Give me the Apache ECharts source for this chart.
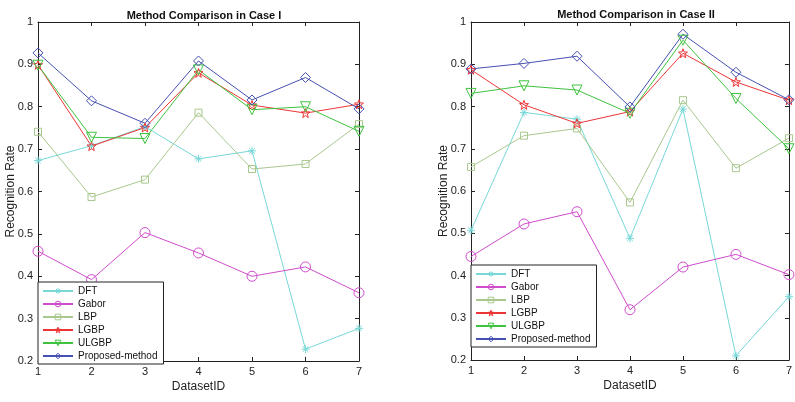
<!DOCTYPE html>
<html lang="en">
	<head>
		<meta charset="UTF-8">
		<title>Method Comparison</title>
		<script src="https://cdn.jsdelivr.net/npm/echarts@6/dist/echarts.min.js" type="text/javascript" charset="utf-8"></script>
	</head>
	<body style="margin:0;background:#fff;">
		<div id="chart" style="width:795px;height:402px;"></div>
	</body>
	<script type="text/javascript">
		// data
		var datasetIds = [1, 2, 3, 4, 5, 6, 7]
		var methodNames = ['DFT', 'Gabor', 'LBP', 'LGBP', 'ULGBP', 'Proposed-method']
		var yTicks = [0.2, 0.3, 0.4, 0.5, 0.6, 0.7, 0.8, 0.9, 1]

		// Case I
		var case1DFT = [0.673, 0.708, 0.753, 0.677, 0.696, 0.228, 0.277]
		var case1Gabor = [0.459, 0.392, 0.503, 0.455, 0.400, 0.422, 0.361]
		var case1LBP = [0.741, 0.587, 0.628, 0.786, 0.653, 0.665, 0.759]
		var case1LGBP = [0.899, 0.707, 0.751, 0.880, 0.804, 0.785, 0.806]
		var case1ULGBP = [0.898, 0.728, 0.725, 0.887, 0.793, 0.800, 0.742]
		var case1Proposed = [0.927, 0.814, 0.761, 0.908, 0.816, 0.869, 0.795]

		// Case II
		var case2DFT = [0.507, 0.786, 0.770, 0.488, 0.794, 0.210, 0.350]
		var case2Gabor = [0.445, 0.522, 0.551, 0.319, 0.420, 0.450, 0.402]
		var case2LBP = [0.657, 0.731, 0.748, 0.573, 0.815, 0.654, 0.725]
		var case2LGBP = [0.887, 0.804, 0.760, 0.788, 0.926, 0.858, 0.815]
		var case2ULGBP = [0.831, 0.849, 0.839, 0.784, 0.957, 0.819, 0.700]
		var case2Proposed = [0.889, 0.902, 0.919, 0.799, 0.971, 0.881, 0.816]

		var colors = ['#78d8d8', '#cf4ccb', '#a9c88e', '#ee3535', '#3fc23f', '#4650b0']
		var asterisk = 'path://M5,0L5,10M0,5L10,5M1.5,1.5L8.5,8.5M1.5,8.5L8.5,1.5'
		var star = 'path://M5,0L6.2,3.4L10,3.6L7,5.9L8.1,9.6L5,7.4L1.9,9.6L3,5.9L0,3.6L3.8,3.4Z'
		var tri = 'path://M0,0L10,0L5,8.7Z'
		var symbols = [asterisk, 'circle', 'rect', star, tri, 'diamond']
		var symbolSizes = [8, 10, 7, 9, 10, 10]

		var font = '"Liberation Sans", Arial, sans-serif'

		function pairs(vals) {
			var out = []
			for(var i = 0; i < datasetIds.length; i++) {
				out.push([datasetIds[i], vals[i]])
			}
			return out
		}

		function makeSeries(list, axisIndex) {
			var arr = []
			for(var i = 0; i < list.length; i++) {
				arr.push({
					name: methodNames[i],
					type: 'line',
					xAxisIndex: axisIndex,
					yAxisIndex: axisIndex,
					data: pairs(list[i]),
					symbol: symbols[i],
					symbolSize: symbolSizes[i],
					showAllSymbol: true,
					animation: false,
					lineStyle: { color: colors[i], width: 1 },
					itemStyle: { color: 'rgba(255,255,255,0)', borderColor: colors[i], borderWidth: 1 },
					emphasis: { disabled: true }
				})
			}
			return arr
		}

		function bottomX(grid) {
			return {
				type: 'value', gridIndex: grid, min: 1, max: 7, interval: 1,
				position: 'bottom',
				axisLine: { lineStyle: { color: '#222', width: 1 } },
				axisTick: { inside: true, length: 4, lineStyle: { color: '#222' } },
				axisLabel: { color: '#222', fontSize: 11, fontFamily: font, margin: 5 },
				splitLine: { show: false },
				name: 'DatasetID', nameLocation: 'middle', nameGap: 20, nameMoveOverlap: false,
				nameTextStyle: { color: '#222', fontSize: 12, fontFamily: font }
			}
		}

		function topX(grid) {
			return {
				type: 'value', gridIndex: grid, min: 1, max: 7, interval: 1,
				position: 'top',
				axisLine: { lineStyle: { color: '#222', width: 1 } },
				axisTick: { inside: true, length: 4, lineStyle: { color: '#222' } },
				axisLabel: { show: false },
				splitLine: { show: false }
			}
		}

		function leftY(grid) {
			return {
				type: 'value', gridIndex: grid, min: yTicks[0], max: yTicks[yTicks.length - 1], interval: 0.1,
				position: 'left',
				axisLine: { show: true, lineStyle: { color: '#222', width: 1 } },
				axisTick: { show: true, inside: true, length: 4, lineStyle: { color: '#222' } },
				axisLabel: {
					color: '#222', fontSize: 11, fontFamily: font, margin: 5,
					formatter: function(v) { return Math.round(v * 10) / 10 + '' }
				},
				splitLine: { show: false },
				name: 'Recognition Rate', nameLocation: 'middle', nameGap: 21, nameMoveOverlap: false,
				nameTextStyle: { color: '#222', fontSize: 12, fontFamily: font }
			}
		}

		function rightY(grid) {
			return {
				type: 'value', gridIndex: grid, min: yTicks[0], max: yTicks[yTicks.length - 1], interval: 0.1,
				position: 'right',
				axisLine: { show: true, lineStyle: { color: '#222', width: 1 } },
				axisTick: { show: true, inside: true, length: 4, lineStyle: { color: '#222' } },
				axisLabel: { show: false },
				splitLine: { show: false }
			}
		}

		function legendAt(left, top) {
			return {
				orient: 'vertical', left: left, top: top,
				data: methodNames,
				backgroundColor: '#fff', borderColor: '#222', borderWidth: 1, borderRadius: 0,
				padding: [4, 6, 3, 4],
				itemWidth: 30, itemHeight: 7, itemGap: 3,
				itemStyle: { color: 'rgba(255,255,255,0)', borderWidth: 1 },
				textStyle: { color: '#111', fontSize: 10, fontFamily: font, lineHeight: 10 },
				selectedMode: false
			}
		}

		var myChart = echarts.init(document.getElementById('chart'))
		var option = {
			backgroundColor: '#fff',
			animation: false,
			title: [{
				text: 'Method Comparison in Case I', left: 199, top: 5, textAlign: 'center',
				textStyle: { fontSize: 11, fontWeight: 'bold', color: '#111', fontFamily: font }
			}, {
				text: 'Method Comparison in Case II', left: 631, top: 4, textAlign: 'center',
				textStyle: { fontSize: 11, fontWeight: 'bold', color: '#111', fontFamily: font }
			}],
			legend: [legendAt(38, 282), legendAt(471, 265)],
			grid: [
				{ left: 38, right: 436, top: 22, bottom: 41 },
				{ left: 471, right: 4, top: 22, bottom: 42 }
			],
			xAxis: [bottomX(0), topX(0), bottomX(1), topX(1)],
			yAxis: [leftY(0), rightY(0), leftY(1), rightY(1)],
			series: makeSeries([case1DFT, case1Gabor, case1LBP, case1LGBP, case1ULGBP, case1Proposed], 0)
				.concat(makeSeries([case2DFT, case2Gabor, case2LBP, case2LGBP, case2ULGBP, case2Proposed], 2))
		}
		myChart.setOption(option)
	</script>
</html>
